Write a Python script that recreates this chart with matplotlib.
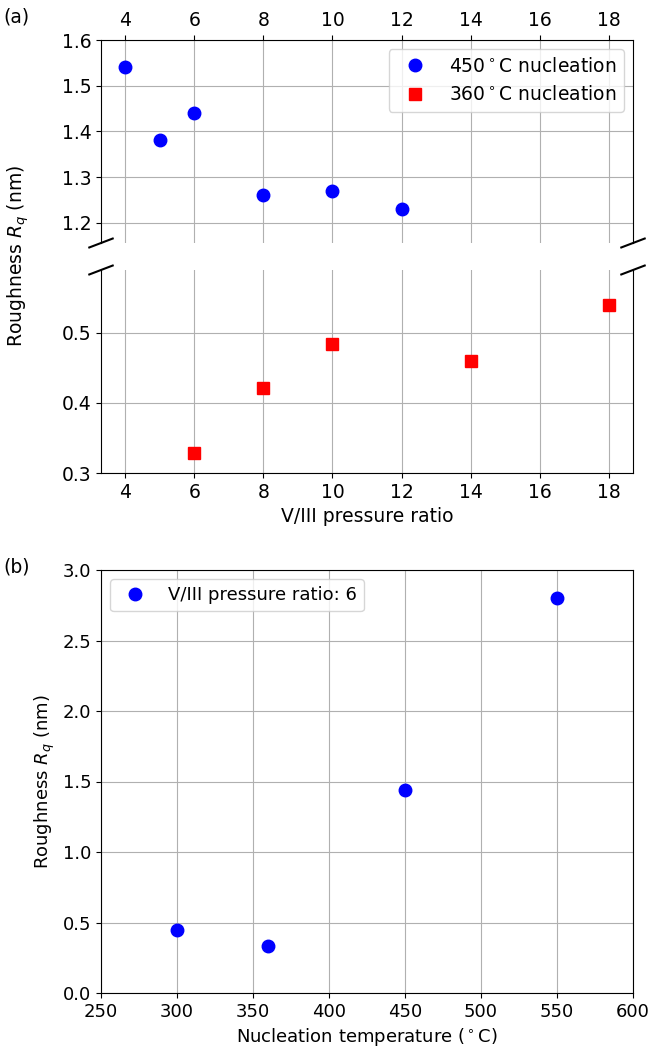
import numpy as np
import matplotlib
matplotlib.use('Agg')
import matplotlib.pyplot as plt

# panel (a): roughness vs V/III ratio, two nucleation temperatures
ratio_450 = [4, 5, 6, 8, 10, 12]
rq_450 = [1.54, 1.38, 1.44, 1.26, 1.27, 1.23]
ratio_360 = [6, 8, 10, 14, 18]
rq_360 = [0.328, 0.421, 0.483, 0.460, 0.539]

# panel (b): roughness vs nucleation temperature at V/III = 6
temp_b = [300, 360, 450, 550]
rq_b = [0.445, 0.33, 1.44, 2.80]

plt.rcParams['font.size'] = 13.5

W, H = 649, 1053
fig = plt.figure(figsize=(W / 100, H / 100), dpi=100)

def frac(left, top, right, bottom):
    # pixel box -> figure fraction rect
    return [left / W, 1 - bottom / H, (right - left) / W, (bottom - top) / H]

ax1 = fig.add_axes(frac(101, 40, 633, 243))
ax2 = fig.add_axes(frac(101, 270, 633, 473), sharex=ax1)
ax3 = fig.add_axes(frac(101, 570, 633, 993))

ax1.plot(ratio_450, rq_450, 'bo', ms=9, label='450$^\\circ$C nucleation')
ax1.plot([], [], 'rs', ms=9, label='360$^\\circ$C nucleation')
ax2.plot(ratio_360, rq_360, 'rs', ms=9)

ax1.set_ylim(1.1555, 1.6)
ax2.set_ylim(0.3, 0.589)
ax1.set_yticks([1.2, 1.3, 1.4, 1.5, 1.6])
ax2.set_yticks([0.3, 0.4, 0.5])
ax2.set_xticks(range(4, 19, 2))
ax1.set_xlim(3.3, 18.7)

ax1.spines['bottom'].set_visible(False)
ax2.spines['top'].set_visible(False)
ax1.xaxis.tick_top()
ax1.tick_params(labeltop=True, labelbottom=False)
ax2.xaxis.tick_bottom()
ax1.grid(True)
ax2.grid(True)

# break marks
d = 0.022
kw = dict(transform=ax1.transAxes, color='k', clip_on=False, lw=1.5)
ax1.plot((-d, +d), (-d, +d), **kw)
ax1.plot((1 - d, 1 + d), (-d, +d), **kw)
kw.update(transform=ax2.transAxes)
ax2.plot((-d, +d), (1 - d, 1 + d), **kw)
ax2.plot((1 - d, 1 + d), (1 - d, 1 + d), **kw)

ax2.set_xlabel('V/III pressure ratio')
ax1.legend(loc='upper right')
fig.text(0.028, 0.757, 'Roughness $R_q$ (nm)', rotation=90, ha='center', va='center')
fig.text(0.005, 0.984, '(a)', ha='left', va='center')

ax3.plot(temp_b, rq_b, 'bo', ms=9, label='V/III pressure ratio: 6')
ax3.set_xlim(250, 600)
ax3.set_ylim(0, 3)
ax3.grid(True)
ax3.legend(loc='upper left', fontsize=13)
ax3.tick_params(labelsize=13)
ax3.set_xlabel('Nucleation temperature ($^\\circ$C)', fontsize=13)
ax3.set_ylabel('Roughness $R_q$ (nm)', fontsize=13)
fig.text(0.005, 0.462, '(b)', ha='left', va='center')

fig.savefig('out.png', dpi=100)
